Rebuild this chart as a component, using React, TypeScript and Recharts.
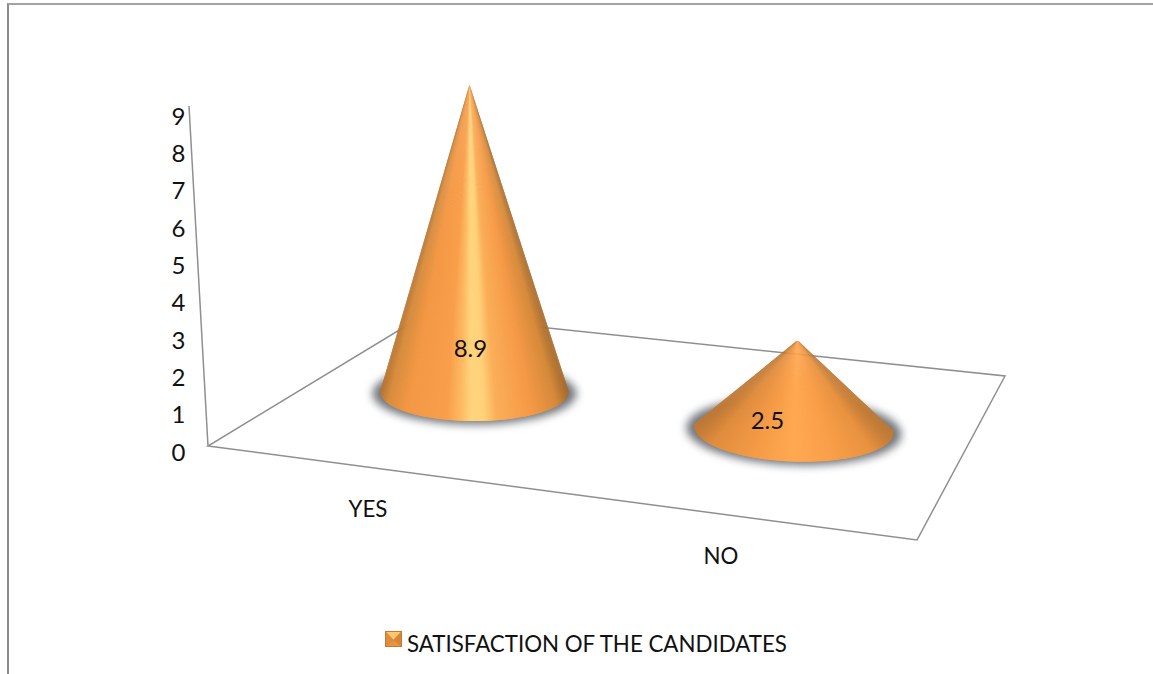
import React from 'react';
import { BarChart, Bar, XAxis, YAxis, Legend, LabelList, Customized } from 'recharts';

const categories = ['YES', 'NO'];
const satisfaction = [8.9, 2.5];
const yTicks = [0, 1, 2, 3, 4, 5, 6, 7, 8, 9];
const seriesName = 'SATISFACTION OF THE CANDIDATES';

const rows = categories.map((category, i) => ({ category, value: satisfaction[i] }));

const FONT = 'Lato, Carlito, sans-serif';
const FONT_SIZE = 22.3;
const DIGIT_SIZE = 24;
const INK = '#111111';
const EDGE = '#8f8f8f';

// Tonal ramps across each cone, from the left silhouette to the right one.
const RAMPS: [number, string][][] = [
  [[-1, '#b87632'], [-0.93, '#d68c3e'], [-0.72, '#f39845'], [-0.3, '#f99f4b'], [-0.14, '#fdbb63'], [-0.04, '#ffd47c'], [0.1, '#ffd27a'], [0.24, '#fbae58'], [0.6, '#f69a47'], [0.88, '#d58a3b'], [1, '#a86c2e']],
  [[-1, '#bf7a37'], [-0.82, '#e08d3e'], [-0.4, '#f59b47'], [0, '#ffa852'], [0.4, '#fa9f4a'], [0.8, '#e8923f'], [1, '#bf7a37']],
];

// The floor is seen in perspective, so band positions are carried onto it here.
const bandOrigin = 368;
const bandStep = 353;
const depthOf = (bandCentre: number) => (bandCentre - bandOrigin) / bandStep;
const onFloor = (bandCentre: number) => {
  const t = depthOf(bandCentre);
  return {
    t,
    cx: 474 + 319.5 * t,
    cy: 392 + 37.5 * t,
    ry: 29 + 3 * t,
    lean: -5 + 8.5 * t,
    tilt: (2 * t * Math.PI) / 180,
    widen: 1 + 0.06 * t,
    rise: 0.925 + 0.031 * t,
  };
};

const toRgb = (hex: string) => [1, 3, 5].map((p) => parseInt(hex.slice(p, p + 2), 16));
const sampleRamp = (ramp: [number, string][], u: number) => {
  for (let i = 1; i < ramp.length; i++) {
    if (u <= ramp[i][0]) {
      const [u0, c0] = ramp[i - 1];
      const [u1, c1] = ramp[i];
      const k = Math.max(0, (u - u0) / (u1 - u0));
      const a = toRgb(c0);
      const b = toRgb(c1);
      return `rgb(${a.map((v, j) => Math.round(v + (b[j] - v) * k)).join(',')})`;
    }
  }
  return ramp[ramp.length - 1][1];
};

const Cone = (props: any) => {
  const { x, width, height, index } = props;
  const p = onFloor(x + width / 2);
  const rx = (width / 2) * p.widen;
  const apexX = p.cx + p.lean;
  const apexY = p.cy - height * p.rise;
  const rimPoint = (a: number) => {
    const ex = rx * Math.cos(a);
    const ey = p.ry * Math.sin(a);
    return [p.cx + ex * Math.cos(p.tilt) - ey * Math.sin(p.tilt), p.cy + ex * Math.sin(p.tilt) + ey * Math.cos(p.tilt)];
  };
  const count = 180;
  const overshoot = 0.08;
  const angleAt = (i: number) => -overshoot + ((Math.PI + 2 * overshoot) * i) / count;
  // Narrow wedges are painted back to front so each one covers the seam of the last.
  const slices = [];
  for (let i = 0; i < count; i++) {
    const [x0, y0] = rimPoint(angleAt(i));
    const [x1, y1] = rimPoint(angleAt(i + 2 > count ? count : i + 2));
    const tone = sampleRamp(RAMPS[index], Math.cos(angleAt(i + 0.5)));
    slices.push(<path key={i} d={`M${apexX} ${apexY}L${x0} ${y0}L${x1} ${y1}Z`} fill={tone} />);
  }
  return (
    <g>
      <ellipse
        cx={p.cx}
        cy={p.cy + 1.5}
        rx={rx + 8}
        ry={p.ry + 2}
        fill="#72767b"
        transform={`rotate(${(p.tilt * 180) / Math.PI} ${p.cx} ${p.cy})`}
        style={{ filter: 'blur(4.5px)' }}
      />
      {slices}
    </g>
  );
};

const ValueLabel = (props: any) => {
  const { x, width, value } = props;
  const p = onFloor(x + width / 2);
  const offsetX = -4 - 22.5 * p.t;
  const offsetY = -45 + 34.5 * p.t;
  return (
    <text x={p.cx + offsetX} y={p.cy + offsetY} textAnchor="middle" dominantBaseline="central" fontFamily={FONT} fontSize={DIGIT_SIZE} fill={INK}>
      {value}
    </text>
  );
};

const CategoryTick = (props: any) => {
  const { x, payload } = props;
  return (
    <text x={x} y={508 + 47 * depthOf(x)} textAnchor="middle" dominantBaseline="central" fontFamily={FONT} fontSize={FONT_SIZE} fill={INK}>
      {payload.value}
    </text>
  );
};

const ValueTick = (props: any) => {
  const { x, y, payload } = props;
  return (
    <text x={x + 5} y={y} textAnchor="end" dominantBaseline="central" fontFamily={FONT} fontSize={DIGIT_SIZE} fill={INK}>
      {payload.value}
    </text>
  );
};

// Back wall edge and floor outline of the 3D frame.
const Floor = () => (
  <g fill="none" stroke={EDGE} strokeWidth={1.5}>
    <path d="M189 106L208 446" />
    <path d="M208 446L917 540L1005 376L424 315Z" strokeLinejoin="miter" />
  </g>
);

const LegendRow = () => (
  <div style={{ display: 'flex', alignItems: 'center', fontFamily: FONT, fontSize: FONT_SIZE, color: INK, whiteSpace: 'nowrap' }}>
    <svg width={17} height={16} style={{ marginRight: 5, marginTop: -10 }}>
      <rect x={0} y={0} width={17} height={16} fill="#c47a33" />
      <path d="M1 1H16L8.5 9Z" fill="#ffc76e" />
      <path d="M1 1L8.5 9L1 15Z" fill="#e08c3e" />
      <path d="M16 1L8.5 9L16 15Z" fill="#d98438" />
      <path d="M1 15H16L8.5 9Z" fill="#e8933f" />
    </svg>
    <span>{seriesName}</span>
  </div>
);

export default function App() {
  return (
    <div style={{ position: 'absolute', left: 0, top: 0, width: 1153, height: 674, overflow: 'hidden', background: '#fff' }}>
      <div style={{ position: 'absolute', left: 7, top: 3, right: 0, bottom: 0, borderTop: '2px solid #a4a4a4', borderLeft: '2px solid #8c8c8c' }} />
      <BarChart
        width={1153}
        height={674}
        data={rows}
        margin={{ top: 115, right: 255.5, bottom: 156, left: 91.5 }}
        style={{ position: 'absolute', left: 0, top: 0 }}
      >
        <Customized component={Floor} />
        <XAxis dataKey="category" axisLine={false} tickLine={false} tick={CategoryTick} height={40} />
        <YAxis
          domain={[0, 9]}
          ticks={yTicks}
          axisLine={false}
          tickLine={false}
          width={100}
          tickMargin={5}
          interval={0}
          tick={ValueTick}
        />
        <Bar dataKey="value" name={seriesName} barSize={188} shape={Cone} isAnimationActive={false}>
          <LabelList dataKey="value" content={ValueLabel} />
        </Bar>
        <Legend content={LegendRow} wrapperStyle={{ position: 'absolute', left: 385, top: 630, width: 'auto', bottom: 'auto' }} />
      </BarChart>
    </div>
  );
}
